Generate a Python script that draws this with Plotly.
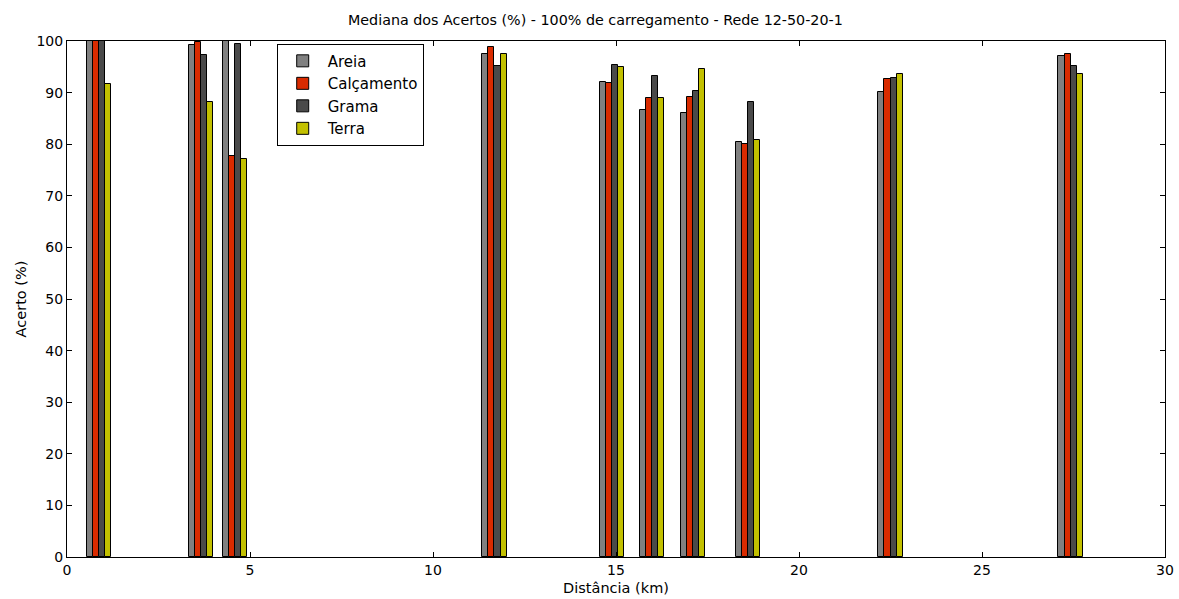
import plotly.graph_objects as go

# Distances (km) at which each group of bars is placed
distancias = [0.87, 3.67, 4.58, 11.68, 14.89, 15.99, 17.10, 18.60, 22.50, 27.42]

# Median accuracy (%) per soil type
areia      = [100.0, 99.3, 100.0, 97.4, 92.0, 86.6, 86.0, 80.4, 90.2, 97.1]
calcamento = [100.0, 99.8, 77.7, 98.8, 91.8, 89.0, 89.2, 80.1, 92.6, 97.5]
grama      = [100.0, 97.3, 99.4, 95.1, 95.3, 93.3, 90.4, 88.2, 92.8, 95.1]
terra      = [91.7, 88.2, 77.1, 97.4, 94.9, 89.0, 94.5, 80.9, 93.6, 93.7]

x_ticks = [0, 5, 10, 15, 20, 25, 30]
y_ticks = [0, 10, 20, 30, 40, 50, 60, 70, 80, 90, 100]

series = [
    ("Areia", areia, "#808080"),
    ("Calçamento", calcamento, "#d92b00"),
    ("Grama", grama, "#4a4a4a"),
    ("Terra", terra, "#c2c000"),
]

group_width = 0.66
n = len(series)
bar_w = group_width / n

fig = go.Figure()
for i, (name, vals, color) in enumerate(series):
    fig.add_trace(go.Bar(
        x=distancias,
        y=vals,
        name=name,
        width=bar_w,
        offset=-group_width / 2 + i * bar_w,
        marker=dict(color=color, line=dict(color="black", width=1)),
    ))

font_family = "DejaVu Sans, Verdana, sans-serif"

fig.update_layout(
    width=1179,
    height=599,
    margin=dict(l=67, r=14, t=41, b=42),
    paper_bgcolor="white",
    plot_bgcolor="white",
    barmode="overlay",
    bargap=0,
    font=dict(family=font_family, size=14, color="black"),
    title=dict(
        text="Mediana dos Acertos (%) - 100% de carregamento - Rede 12-50-20-1",
        x=0.505, xanchor="center", y=0.966, yanchor="middle",
        font=dict(size=14.3, family=font_family, color="black"),
    ),
    legend=dict(
        x=0.191, y=0.995, xanchor="left", yanchor="top",
        bgcolor="white", bordercolor="black", borderwidth=1,
        font=dict(size=15, family=font_family, color="black"),
        tracegroupgap=0, itemwidth=40,
    ),
    showlegend=True,
)

fig.update_xaxes(
    range=[0, 30], tickvals=x_ticks,
    ticks="inside", ticklen=5, tickcolor="black",
    showline=True, linecolor="black", linewidth=1, mirror="ticks",
    showgrid=False, zeroline=False, automargin=False,
    title=dict(text="Distância (km)", standoff=6, font=dict(size=14.5)),
    tickfont=dict(size=14),
)
fig.update_yaxes(
    range=[0, 100], tickvals=y_ticks,
    ticks="inside", ticklen=5, tickcolor="black",
    showline=True, linecolor="black", linewidth=1, mirror="ticks",
    showgrid=False, zeroline=False, automargin=False,
    title=dict(text="Acerto (%)", standoff=6, font=dict(size=14.5)),
    tickfont=dict(size=14),
)

fig.write_html("out.html")
